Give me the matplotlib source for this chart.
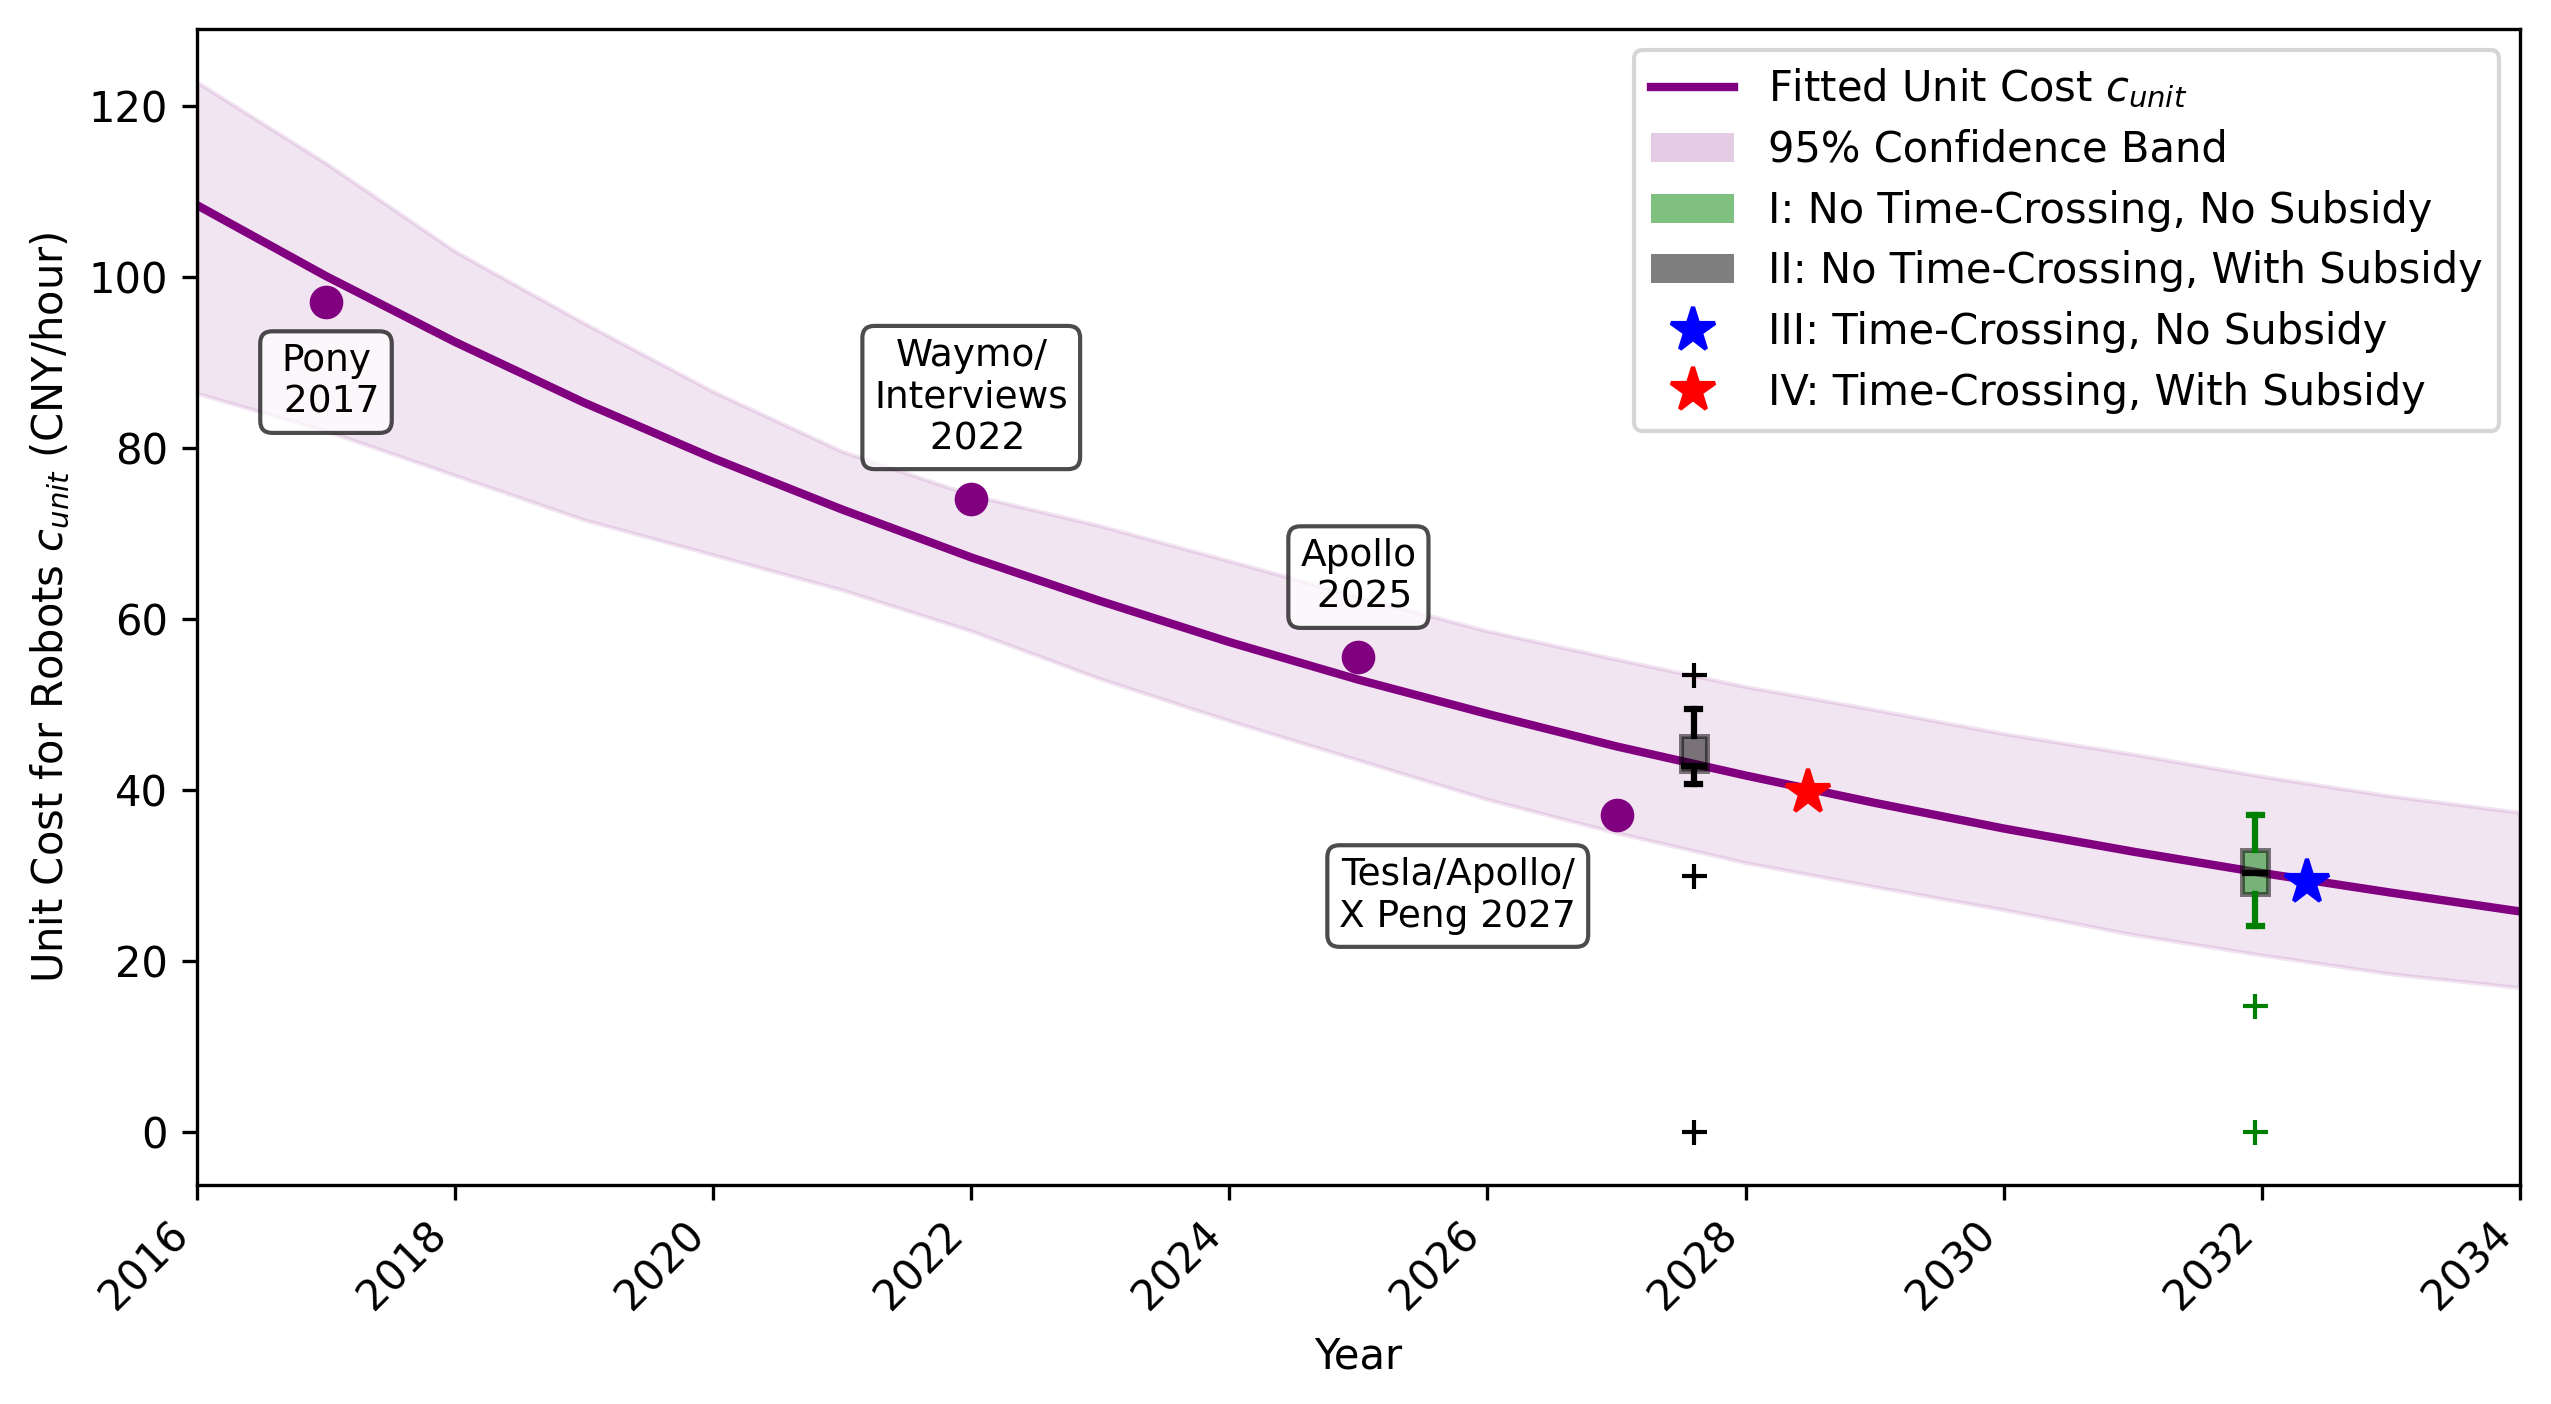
import numpy as np
import matplotlib.pyplot as plt
from matplotlib.patches import Patch
from matplotlib.lines import Line2D

# fitted curve and confidence band at yearly points
years = np.arange(2016, 2035)
fit_cost = [108.4, 100.1, 92.4, 85.3, 78.8, 72.8, 67.2, 62.1, 57.3, 52.9,
            48.9, 45.1, 41.7, 38.5, 35.5, 32.8, 30.3, 28.0, 25.8]
band_upper = [122.8, 113.3, 103.0, 94.6, 86.6, 79.6, 74.5, 70.9, 66.8, 62.6,
              58.6, 55.3, 52.1, 49.4, 46.6, 44.2, 41.6, 39.3, 37.4]
band_lower = [86.4, 82.0, 76.8, 71.6, 67.5, 63.4, 58.6, 53.0, 48.1, 43.5,
              38.9, 35.0, 31.5, 28.7, 26.0, 23.1, 20.7, 18.5, 16.9]

# observed unit costs
obs_years = [2017, 2022, 2025, 2027]
obs_cost = [97.1, 74.0, 55.5, 37.1]
obs_labels = ['Pony\n 2017', 'Waymo/\nInterviews\n 2022', 'Apollo\n 2025',
              'Tesla/Apollo/\nX Peng 2027']

# scenario boxes (I: no time-crossing/no subsidy, II: no time-crossing/with subsidy)
box_years = [2031.95, 2027.6]
box_I = dict(med=30.3, q1=27.8, q3=33.0, whislo=24.1, whishi=37.1, fliers=[14.7, 0.0])
box_II = dict(med=42.8, q1=42.2, q3=46.3, whislo=40.7, whishi=49.5, fliers=[53.4, 29.9, 0.0])

# scenario stars
star_III = (2032.35, 29.3)
star_IV = (2028.48, 39.8)

fig = plt.figure(figsize=(2551 / 300, 1404 / 300), dpi=300)
ax = fig.add_axes([0.0772, 0.1563, 0.9106, 0.8227])

ax.fill_between(years, band_lower, band_upper, color='purple', alpha=0.1, zorder=1)
ax.plot(years, fit_cost, color='purple', linewidth=2, zorder=2)

ax.scatter(obs_years, obs_cost, color='purple', s=50, zorder=3)

text_pos = [(2017.0, 87.7), (2022.0, 85.9), (2025.0, 64.9), (2025.77, 27.6)]
for lab, (tx, ty) in zip(obs_labels, text_pos):
    ax.text(tx, ty, lab, ha='center', va='center', fontsize=9, zorder=5,
            bbox=dict(boxstyle='round,pad=0.32', facecolor='white',
                      edgecolor='black', alpha=0.7))

for stats, pos, col in [(box_I, box_years[0], 'green'), (box_II, box_years[1], 'black')]:
    ax.bxp([stats], positions=[pos], widths=0.2, patch_artist=True,
           manage_ticks=False, zorder=3,
           boxprops=dict(facecolor=col, edgecolor='black', alpha=0.5, linewidth=1.2),
           whiskerprops=dict(color=col, linewidth=1.5),
           capprops=dict(color=col, linewidth=1.5),
           medianprops=dict(color='black', linewidth=1.5),
           flierprops=dict(marker='+', markeredgecolor=col, markersize=6))

ax.plot(*star_III, marker='*', color='blue', markersize=11, linestyle='none', zorder=4)
ax.plot(*star_IV, marker='*', color='red', markersize=11, linestyle='none', zorder=4)

ax.set_xlim(2016, 2034)
ax.set_xticks(np.arange(2016, 2035, 2))
plt.setp(ax.get_xticklabels(), rotation=45, ha='right')
ax.set_xlabel('Year')
ax.set_ylabel('Unit Cost for Robots $c_{unit}$ (CNY/hour)')

handles = [
    Line2D([], [], color='purple', linewidth=2),
    Patch(facecolor='purple', alpha=0.2),
    Patch(facecolor='green', alpha=0.5),
    Patch(facecolor='black', alpha=0.5),
    Line2D([], [], marker='*', color='blue', markersize=11, linestyle='none'),
    Line2D([], [], marker='*', color='red', markersize=11, linestyle='none'),
]
labels = ['Fitted Unit Cost $c_{unit}$', '95% Confidence Band',
          'I: No Time-Crossing, No Subsidy', 'II: No Time-Crossing, With Subsidy',
          'III: Time-Crossing, No Subsidy', 'IV: Time-Crossing, With Subsidy']
ax.legend(handles, labels, loc='upper right', labelspacing=0.45)

fig.savefig('out.png', dpi=300)
